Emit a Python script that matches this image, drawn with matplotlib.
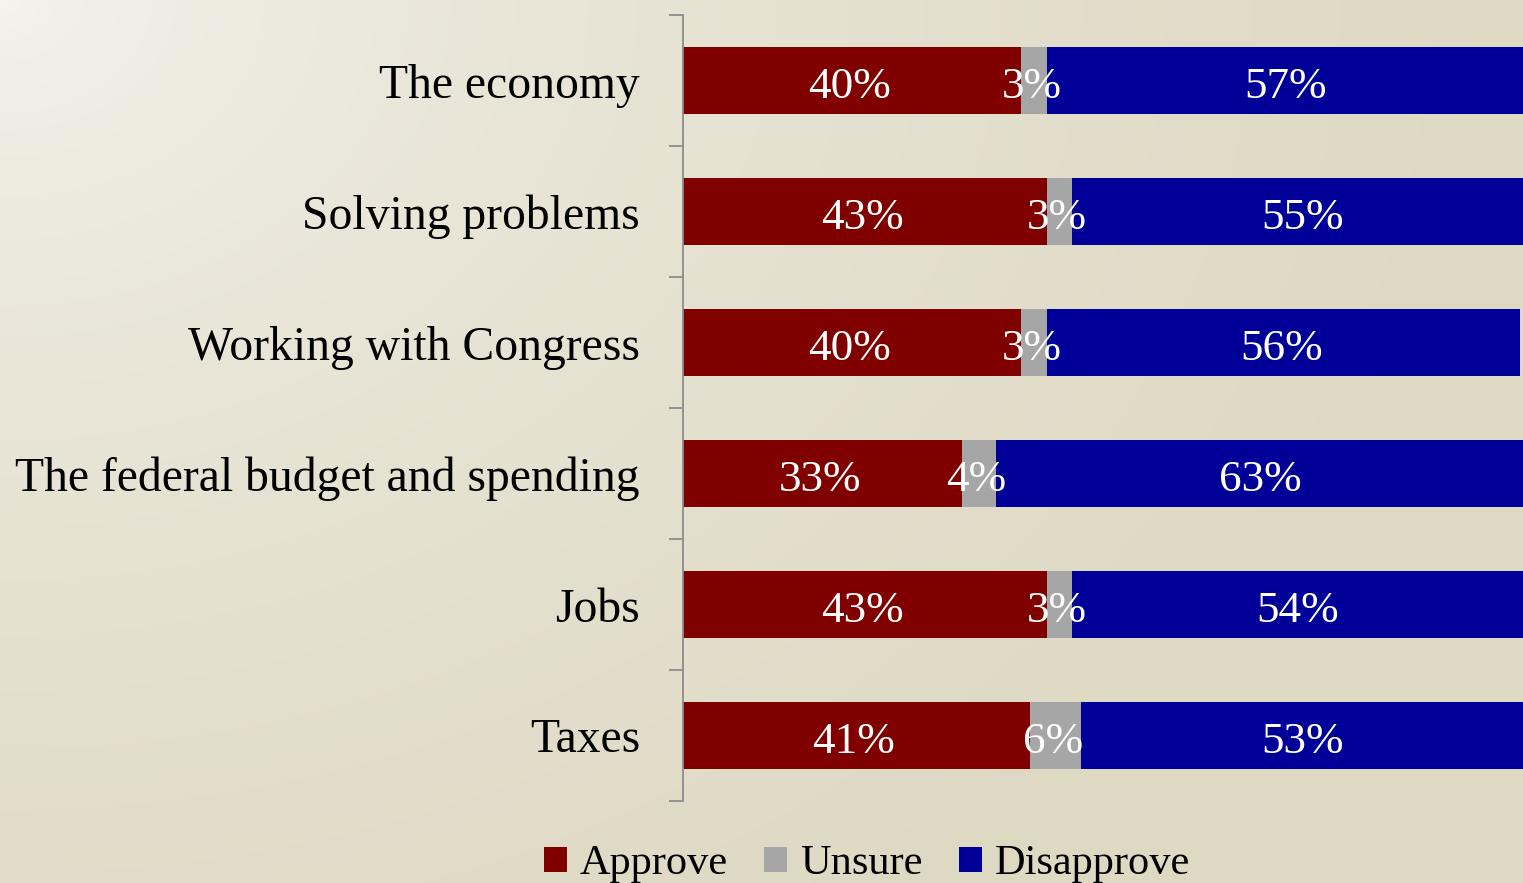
import numpy as np
import matplotlib
matplotlib.use("Agg")
import matplotlib.pyplot as plt
from matplotlib.patches import Patch

categories = ["The economy", "Solving problems", "Working with Congress",
              "The federal budget and spending", "Jobs", "Taxes"]
approve = [40, 43, 40, 33, 43, 41]
unsure = [3, 3, 3, 4, 3, 6]
disapprove = [57, 55, 56, 63, 54, 53]
series_names = ["Approve", "Unsure", "Disapprove"]
colors = ["#800000", "#a6a6a6", "#000099"]

plt.rcParams['font.family'] = ['Liberation Serif', 'DejaVu Serif']

W, H = 1523, 883
fig = plt.figure(figsize=(W / 100, H / 100), dpi=100)

# background gradient
bg = fig.add_axes([0, 0, 1, 1], zorder=-10)
yy, xx = np.mgrid[0:H, 0:W]
d = np.sqrt((xx / W) ** 2 + (yy / H) ** 2 * 0.6) / 1.0
t = np.clip(d, 0, 1) ** 0.6
c0 = np.array([0xf5, 0xf4, 0xef]) / 255.0
c1 = np.array([0xde, 0xd9, 0xc3]) / 255.0
img = c0[None, None, :] * (1 - t[..., None]) + c1[None, None, :] * t[..., None]
bg.imshow(img, aspect='auto', extent=[0, 1, 0, 1], origin='upper')
bg.axis('off')

ax = fig.add_axes([683 / W, 1 - 801 / H, 1 - 683 / W, (801 - 15) / H])
ax.set_facecolor('none')

y = np.arange(len(categories))
left = np.zeros(len(categories))
for vals, name, col in zip([approve, unsure, disapprove], series_names, colors):
    vals = np.array(vals, dtype=float)
    ax.barh(y, vals, left=left, height=0.51, color=col, label=name)
    for yi, l, v in zip(y, left, vals):
        ax.text(l + v / 2 - 0.3, yi + 0.05, f"{int(v)}%", ha='center', va='center',
                color='white', fontsize=32.5)
    left += vals

ax.set_xlim(0, 99.3)
ax.set_ylim(len(categories) - 0.5, -0.5)
ax.set_yticks(y)
ax.set_yticklabels(categories, fontsize=34.3)
ax.tick_params(axis='y', which='major', length=0, pad=31)
ax.set_yticks(np.arange(-0.5, len(categories), 1.0), minor=True)
ax.tick_params(axis='y', which='minor', length=10, width=1.3, color='#8c8c8c')
ax.set_xticks([])
for s in ['top', 'right', 'bottom']:
    ax.spines[s].set_visible(False)
ax.spines['left'].set_color('#8c8c8c')
ax.spines['left'].set_linewidth(1.3)

handles = [Patch(facecolor=c, edgecolor='none', label=n) for c, n in zip(colors, series_names)]
fig.legend(handles=handles, loc='center', bbox_to_anchor=(867 / W, 1 - 864 / H),
           ncol=3, frameon=False, fontsize=30.5, handlelength=0.55, handleheight=0.55,
           handletextpad=0.3, columnspacing=0.85, borderpad=0)

fig.savefig("out.png", dpi=100)
